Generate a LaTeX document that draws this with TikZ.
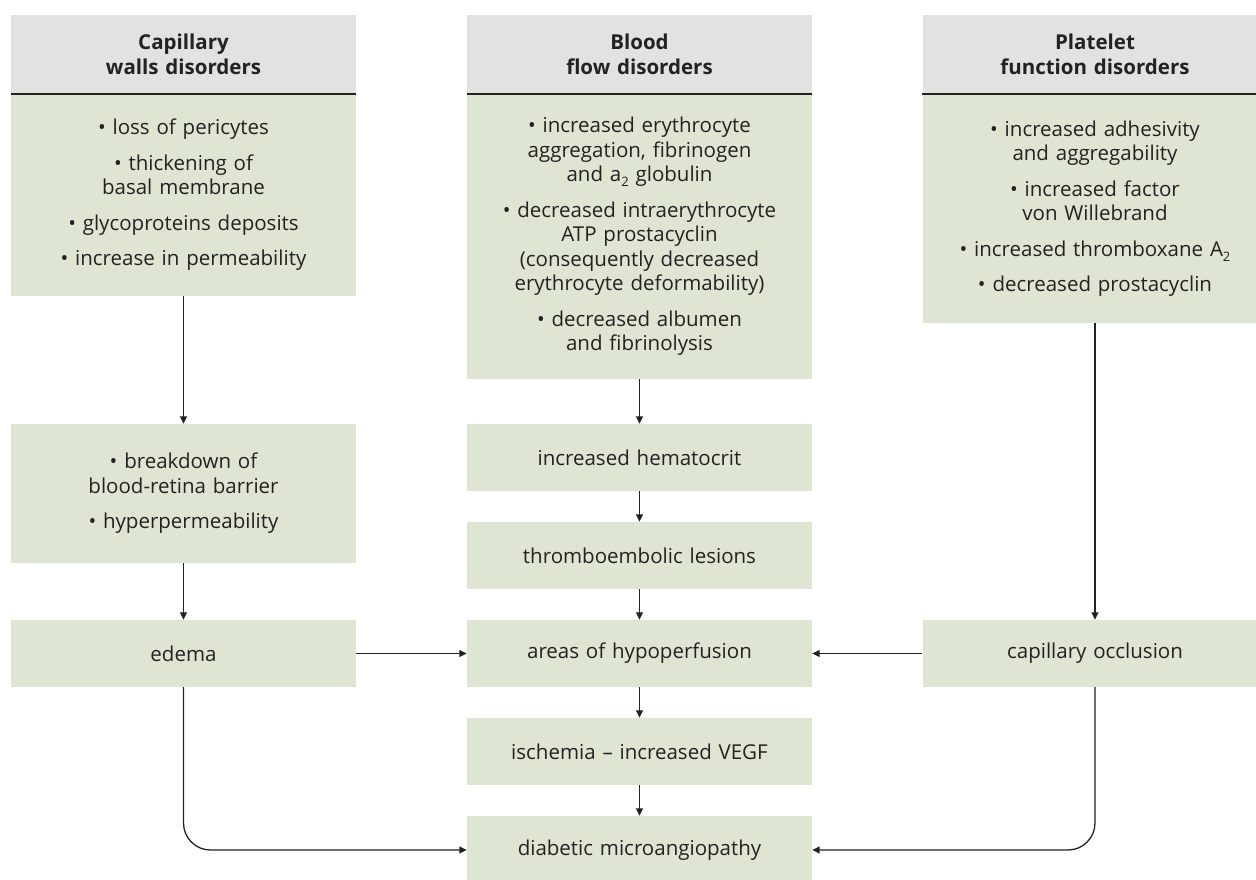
\documentclass[tikz,border=0pt]{standalone}
\usepackage{fontspec}
\setmainfont{Open Sans}
\usetikzlibrary{arrows.meta}
\definecolor{hdrgrey}{HTML}{E2E2E2}
\definecolor{boxgreen}{HTML}{DFE5D3}
\definecolor{ink}{HTML}{222222}
\newcommand{\lowsub}[1]{\raisebox{-0.45ex}{\fontsize{13}{13}\selectfont #1}}
\begin{document}
\begin{tikzpicture}[x=1pt, y=-1pt, text=ink,
        font=\fontsize{20.5}{24.5}\selectfont,
        box/.style={fill=boxgreen, minimum width=345pt, text width=335pt, align=center, inner sep=0pt},
        hdr/.style={fill=hdrgrey, minimum width=345pt, minimum height=79pt, text width=335pt, align=center, inner sep=0pt, font=\fontsize{20.5}{24.5}\selectfont\bfseries},
        arr/.style={draw=ink, line width=1.3pt, -{Triangle[length=7.5pt, width=7pt]}}]
        \useasboundingbox (0, 0) rectangle (1256, 879);
        % column heads
        \node [hdr] (hdrL) at (183.5, 54.5) {Capillary\\walls disorders};
        \node [hdr] (hdrM) at (639.5, 54.5) {Blood\\flow disorders};
        \node [hdr] (hdrR) at (1095, 54.5) {Platelet\\function disorders};
        % left column
        \node [box, minimum height=202pt] (bodyL) at (183.5, 195) {%
            • loss of pericytes\\[11pt]
            • thickening of\\basal membrane\\[11pt]
            • glycoproteins deposits\\[11pt]
            • increase in permeability};
        \node [box, minimum height=139pt] (breakL) at (183.5, 493.5) {%
            • breakdown of\\blood-retina barrier\\[11pt]
            • hyperpermeability};
        \node [box, minimum height=67pt] (edema) at (183.5, 653.5) {edema};
        % middle column
        \node [box, minimum height=285pt] (bodyM) at (639.5, 236.5) {%
            • increased erythrocyte\\aggregation, fibrinogen\\and a\lowsub{2} globulin\\[11pt]
            • decreased intraerythrocyte\\ATP prostacyclin\\(consequently decreased\\erythrocyte deformability)\\[11pt]
            • decreased albumen\\and fibrinolysis};
        \node [box, minimum height=67pt] (hemat) at (639.5, 457.5) {increased hematocrit};
        \node [box, minimum height=67pt] (thromb) at (639.5, 555.5) {thromboembolic lesions};
        \node [box, minimum height=67pt] (hypo) at (639.5, 653.5) {areas of hypoperfusion};
        \node [box, minimum height=67pt] (isch) at (639.5, 751.5) {ischemia – increased VEGF};
        \node [box, minimum height=68pt] (diab) at (639.5, 850) {diabetic microangiopathy};
        % right column
        \node [box, minimum height=229pt] (bodyR) at (1095, 208.5) {%
            • increased adhesivity\\and aggregability\\[11pt]
            • increased factor\\von Willebrand\\[11pt]
            • increased thromboxane A\lowsub{2}\\[11pt]
            • decreased prostacyclin};
        \node [box, minimum height=67pt] (occl) at (1095, 653.5) {capillary occlusion};
        % rules under the heads
        \foreach \h in {hdrL, hdrM, hdrR}
            \draw [ink, line width=1.5pt] (\h.south west)--(\h.south east);
        % connectors
        \draw [arr] (bodyL)--(breakL);
        \draw [arr] (breakL)--(edema);
        \draw [arr] (bodyM)--(hemat);
        \draw [arr] (hemat)--(thromb);
        \draw [arr] (thromb)--(hypo);
        \draw [arr] (hypo)--(isch);
        \draw [arr] (isch)--(diab);
        \draw [arr] (bodyR)--(occl);
        \draw [arr] (edema)--(hypo);
        \draw [arr] (occl)--(hypo);
        \draw [arr, rounded corners=27pt] (edema.south)|-(diab.west);
        \draw [arr, rounded corners=27pt] (occl.south)|-(diab.east);
    \end{tikzpicture}
\end{document}
